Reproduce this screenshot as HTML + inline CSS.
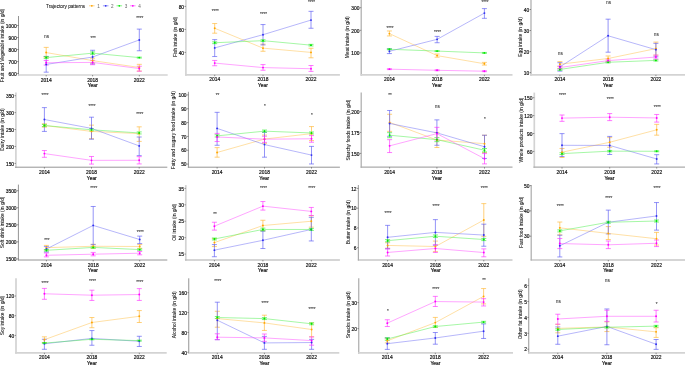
<!DOCTYPE html>
<html><head><meta charset="utf-8"><style>
html,body{margin:0;padding:0;background:#fff;}
svg{display:block;will-change:transform;}
text{font-family:"Liberation Sans",sans-serif;font-size:4.9px;fill:#111;stroke:#111;stroke-width:0.18px;}
text.tt{fill:#1a1a1a;stroke:#1a1a1a;stroke-width:0.08px;}
text.sg{fill:#333;stroke:#333;stroke-width:0.06px;}
</style></head><body>
<svg width="685" height="365" viewBox="0 0 685 365">
<line x1="18.5" y1="16" x2="18.5" y2="75.85" stroke="#949494" stroke-width="1.0"/>
<line x1="18.0" y1="75" x2="167.7" y2="75" stroke="#d3d3d3" stroke-width="1.7"/>
<line x1="17.1" y1="25.5" x2="18.5" y2="25.5" stroke="#333" stroke-width="0.5"/>
<text x="16.7" y="27.7" text-anchor="end">1000</text>
<line x1="17.1" y1="37.52" x2="18.5" y2="37.52" stroke="#333" stroke-width="0.5"/>
<text x="16.7" y="39.73" text-anchor="end">900</text>
<line x1="17.1" y1="49.55" x2="18.5" y2="49.55" stroke="#333" stroke-width="0.5"/>
<text x="16.7" y="51.75" text-anchor="end">800</text>
<line x1="17.1" y1="61.57" x2="18.5" y2="61.57" stroke="#333" stroke-width="0.5"/>
<text x="16.7" y="63.77" text-anchor="end">700</text>
<line x1="17.1" y1="73.6" x2="18.5" y2="73.6" stroke="#333" stroke-width="0.5"/>
<text x="16.7" y="75.8" text-anchor="end">600</text>
<line x1="46.2" y1="75" x2="46.2" y2="76.4" stroke="#333" stroke-width="0.5"/>
<text x="46.2" y="81.5" text-anchor="middle">2014</text>
<line x1="92.6" y1="75" x2="92.6" y2="76.4" stroke="#333" stroke-width="0.5"/>
<text x="92.6" y="81.5" text-anchor="middle">2018</text>
<line x1="139.3" y1="75" x2="139.3" y2="76.4" stroke="#333" stroke-width="0.5"/>
<text x="139.3" y="81.5" text-anchor="middle">2022</text>
<text x="92.75" y="87.4" text-anchor="middle">Year</text>
<text transform="translate(3.9,45.6) rotate(-90)" text-anchor="middle" class="tt">Fruit and Vegetable intake (in g/d)</text>
<path d="M46.2 57.37V47.39M43.7 57.37H48.7M43.7 47.39H48.7" stroke="#FFB733" stroke-width="0.65" fill="none"/>
<path d="M92.6 63.02V58.21M90.1 63.02H95.1M90.1 58.21H95.1" stroke="#FFB733" stroke-width="0.65" fill="none"/>
<path d="M139.3 71.07V64.34M136.8 71.07H141.8M136.8 64.34H141.8" stroke="#FFB733" stroke-width="0.65" fill="none"/>
<path d="M46.2 72.16V56.4M43.7 72.16H48.7M43.7 56.4H48.7" stroke="#5959F3" stroke-width="0.65" fill="none"/>
<path d="M92.6 63.98V50.27M90.1 63.98H95.1M90.1 50.27H95.1" stroke="#5959F3" stroke-width="0.65" fill="none"/>
<path d="M139.3 50.75V29.11M136.8 50.75H141.8M136.8 29.11H141.8" stroke="#5959F3" stroke-width="0.65" fill="none"/>
<path d="M46.2 58.57V56.52M43.7 58.57H48.7M43.7 56.52H48.7" stroke="#33ED33" stroke-width="0.65" fill="none"/>
<path d="M92.6 54.36V51.95M90.1 54.36H95.1M90.1 51.95H95.1" stroke="#33ED33" stroke-width="0.65" fill="none"/>
<path d="M139.3 58.09V57.13M136.8 58.09H141.8M136.8 57.13H141.8" stroke="#33ED33" stroke-width="0.65" fill="none"/>
<path d="M46.2 65.06V60.49M43.7 65.06H48.7M43.7 60.49H48.7" stroke="#FF33FF" stroke-width="0.65" fill="none"/>
<path d="M92.6 64.7V60.37M90.1 64.7H95.1M90.1 60.37H95.1" stroke="#FF33FF" stroke-width="0.65" fill="none"/>
<path d="M139.3 71.19V66.26M136.8 71.19H141.8M136.8 66.26H141.8" stroke="#FF33FF" stroke-width="0.65" fill="none"/>
<polyline points="46.2,52.56 92.6,60.61 139.3,67.47" fill="none" stroke="#FFC04D" stroke-width="0.5"/>
<polyline points="46.2,64.46 92.6,57.01 139.3,39.93" fill="none" stroke="#6E6EF4" stroke-width="0.5"/>
<polyline points="46.2,57.61 92.6,53.16 139.3,57.61" fill="none" stroke="#4DEF4D" stroke-width="0.5"/>
<polyline points="46.2,62.78 92.6,62.42 139.3,68.55" fill="none" stroke="#FF4DFF" stroke-width="0.5"/>
<circle cx="46.2" cy="52.56" r="0.95" fill="#FFA500"/>
<circle cx="92.6" cy="60.61" r="0.95" fill="#FFA500"/>
<circle cx="139.3" cy="67.47" r="0.95" fill="#FFA500"/>
<circle cx="46.2" cy="64.46" r="0.95" fill="#3030F0"/>
<circle cx="92.6" cy="57.01" r="0.95" fill="#3030F0"/>
<circle cx="139.3" cy="39.93" r="0.95" fill="#3030F0"/>
<circle cx="46.2" cy="57.61" r="0.95" fill="#00E800"/>
<circle cx="92.6" cy="53.16" r="0.95" fill="#00E800"/>
<circle cx="139.3" cy="57.61" r="0.95" fill="#00E800"/>
<circle cx="46.2" cy="62.78" r="0.95" fill="#FF00FF"/>
<circle cx="92.6" cy="62.42" r="0.95" fill="#FF00FF"/>
<circle cx="139.3" cy="68.55" r="0.95" fill="#FF00FF"/>
<text x="46.7" y="37.7" text-anchor="middle" class="sg">ns</text>
<text x="93.1" y="39.7" text-anchor="middle" class="sg" style="font-size:4.5px">***</text>
<text x="139.8" y="19.8" text-anchor="middle" class="sg" style="font-size:4.5px">****</text>
<line x1="185.9" y1="0" x2="185.9" y2="75.64999999999999" stroke="#d3d3d3" stroke-width="1.7"/>
<line x1="185.05" y1="74.8" x2="339.9" y2="74.8" stroke="#d3d3d3" stroke-width="1.7"/>
<line x1="184.5" y1="6.4" x2="185.9" y2="6.4" stroke="#333" stroke-width="0.5"/>
<text x="184.1" y="8.6" text-anchor="end">80</text>
<line x1="184.5" y1="29.4" x2="185.9" y2="29.4" stroke="#333" stroke-width="0.5"/>
<text x="184.1" y="31.6" text-anchor="end">60</text>
<line x1="184.5" y1="52.4" x2="185.9" y2="52.4" stroke="#333" stroke-width="0.5"/>
<text x="184.1" y="54.6" text-anchor="end">40</text>
<line x1="214.7" y1="74.8" x2="214.7" y2="76.2" stroke="#333" stroke-width="0.5"/>
<text x="214.7" y="81.3" text-anchor="middle">2014</text>
<line x1="263" y1="74.8" x2="263" y2="76.2" stroke="#333" stroke-width="0.5"/>
<text x="263" y="81.3" text-anchor="middle">2018</text>
<line x1="311" y1="74.8" x2="311" y2="76.2" stroke="#333" stroke-width="0.5"/>
<text x="311" y="81.3" text-anchor="middle">2022</text>
<text x="262.85" y="87.2" text-anchor="middle">Year</text>
<text transform="translate(176.6,37) rotate(-90)" text-anchor="middle" class="tt">Fish intake (in g/d)</text>
<path d="M214.7 33.2V23.54M212.2 33.2H217.2M212.2 23.54H217.2" stroke="#FFB733" stroke-width="0.65" fill="none"/>
<path d="M263 51.25V44.12M260.5 51.25H265.5M260.5 44.12H265.5" stroke="#FFB733" stroke-width="0.65" fill="none"/>
<path d="M311 57.81V48.26M308.5 57.81H313.5M308.5 48.26H313.5" stroke="#FFB733" stroke-width="0.65" fill="none"/>
<path d="M214.7 56.54V39.63M212.2 56.54H217.2M212.2 39.63H217.2" stroke="#5959F3" stroke-width="0.65" fill="none"/>
<path d="M263 44.92V24.57M260.5 44.92H265.5M260.5 24.57H265.5" stroke="#5959F3" stroke-width="0.65" fill="none"/>
<path d="M311 28.25V11.34M308.5 28.25H313.5M308.5 11.34H313.5" stroke="#5959F3" stroke-width="0.65" fill="none"/>
<path d="M214.7 43.66V41.82M212.2 43.66H217.2M212.2 41.82H217.2" stroke="#33ED33" stroke-width="0.65" fill="none"/>
<path d="M263 41.59V39.75M260.5 41.59H265.5M260.5 39.75H265.5" stroke="#33ED33" stroke-width="0.65" fill="none"/>
<path d="M311 45.96V44.35M308.5 45.96H313.5M308.5 44.35H313.5" stroke="#33ED33" stroke-width="0.65" fill="none"/>
<path d="M214.7 65.74V60.45M212.2 65.74H217.2M212.2 60.45H217.2" stroke="#FF33FF" stroke-width="0.65" fill="none"/>
<path d="M263 70.23V64.59M260.5 70.23H265.5M260.5 64.59H265.5" stroke="#FF33FF" stroke-width="0.65" fill="none"/>
<path d="M311 71.38V65.51M308.5 71.38H313.5M308.5 65.51H313.5" stroke="#FF33FF" stroke-width="0.65" fill="none"/>
<polyline points="214.7,28.25 263,48.14 311,52.4" fill="none" stroke="#FFC04D" stroke-width="0.5"/>
<polyline points="214.7,47.91 263,34.69 311,20.09" fill="none" stroke="#6E6EF4" stroke-width="0.5"/>
<polyline points="214.7,42.74 263,40.67 311,45.16" fill="none" stroke="#4DEF4D" stroke-width="0.5"/>
<polyline points="214.7,63.09 263,67.58 311,68.73" fill="none" stroke="#FF4DFF" stroke-width="0.5"/>
<circle cx="214.7" cy="28.25" r="0.95" fill="#FFA500"/>
<circle cx="263" cy="48.14" r="0.95" fill="#FFA500"/>
<circle cx="311" cy="52.4" r="0.95" fill="#FFA500"/>
<circle cx="214.7" cy="47.91" r="0.95" fill="#3030F0"/>
<circle cx="263" cy="34.69" r="0.95" fill="#3030F0"/>
<circle cx="311" cy="20.09" r="0.95" fill="#3030F0"/>
<circle cx="214.7" cy="42.74" r="0.95" fill="#00E800"/>
<circle cx="263" cy="40.67" r="0.95" fill="#00E800"/>
<circle cx="311" cy="45.16" r="0.95" fill="#00E800"/>
<circle cx="214.7" cy="63.09" r="0.95" fill="#FF00FF"/>
<circle cx="263" cy="67.58" r="0.95" fill="#FF00FF"/>
<circle cx="311" cy="68.73" r="0.95" fill="#FF00FF"/>
<text x="215.2" y="12.5" text-anchor="middle" class="sg" style="font-size:4.5px">****</text>
<text x="263.5" y="16.1" text-anchor="middle" class="sg" style="font-size:4.5px">****</text>
<text x="311.5" y="4.1" text-anchor="middle" class="sg" style="font-size:4.5px">****</text>
<line x1="361.2" y1="0" x2="361.2" y2="75.64999999999999" stroke="#ababab" stroke-width="1.2"/>
<line x1="360.59999999999997" y1="74.8" x2="512.5" y2="74.8" stroke="#d3d3d3" stroke-width="1.7"/>
<line x1="359.8" y1="7.7" x2="361.2" y2="7.7" stroke="#333" stroke-width="0.5"/>
<text x="359.4" y="9.9" text-anchor="end">300</text>
<line x1="359.8" y1="30.3" x2="361.2" y2="30.3" stroke="#333" stroke-width="0.5"/>
<text x="359.4" y="32.5" text-anchor="end">200</text>
<line x1="359.8" y1="52.9" x2="361.2" y2="52.9" stroke="#333" stroke-width="0.5"/>
<text x="359.4" y="55.1" text-anchor="end">100</text>
<line x1="389.4" y1="74.8" x2="389.4" y2="76.2" stroke="#333" stroke-width="0.5"/>
<text x="389.4" y="81.3" text-anchor="middle">2014</text>
<line x1="437.1" y1="74.8" x2="437.1" y2="76.2" stroke="#333" stroke-width="0.5"/>
<text x="437.1" y="81.3" text-anchor="middle">2018</text>
<line x1="484.4" y1="74.8" x2="484.4" y2="76.2" stroke="#333" stroke-width="0.5"/>
<text x="484.4" y="81.3" text-anchor="middle">2022</text>
<text x="436.9" y="87.2" text-anchor="middle">Year</text>
<text transform="translate(349.3,37.2) rotate(-90)" text-anchor="middle" class="tt">Meat intake (in g/d)</text>
<path d="M389.4 35.95V30.98M386.9 35.95H391.9M386.9 30.98H391.9" stroke="#FFB733" stroke-width="0.65" fill="none"/>
<path d="M437.1 57.19V54.03M434.6 57.19H439.6M434.6 54.03H439.6" stroke="#FFB733" stroke-width="0.65" fill="none"/>
<path d="M484.4 65.1V62.39M481.9 65.1H486.9M481.9 62.39H486.9" stroke="#FFB733" stroke-width="0.65" fill="none"/>
<path d="M389.4 53.58V48.83M386.9 53.58H391.9M386.9 48.83H391.9" stroke="#5959F3" stroke-width="0.65" fill="none"/>
<path d="M437.1 42.73V36.4M434.6 42.73H439.6M434.6 36.4H439.6" stroke="#5959F3" stroke-width="0.65" fill="none"/>
<path d="M484.4 18.32V8.6M481.9 18.32H486.9M481.9 8.6H486.9" stroke="#5959F3" stroke-width="0.65" fill="none"/>
<path d="M389.4 49.74V48.83M386.9 49.74H391.9M386.9 48.83H391.9" stroke="#33ED33" stroke-width="0.65" fill="none"/>
<path d="M437.1 51.54V50.64M434.6 51.54H439.6M434.6 50.64H439.6" stroke="#33ED33" stroke-width="0.65" fill="none"/>
<path d="M484.4 53.35V52.45M481.9 53.35H486.9M481.9 52.45H486.9" stroke="#33ED33" stroke-width="0.65" fill="none"/>
<path d="M389.4 69.62V68.72M386.9 69.62H391.9M386.9 68.72H391.9" stroke="#FF33FF" stroke-width="0.65" fill="none"/>
<path d="M437.1 70.75V69.85M434.6 70.75H439.6M434.6 69.85H439.6" stroke="#FF33FF" stroke-width="0.65" fill="none"/>
<path d="M484.4 71.66V70.75M481.9 71.66H486.9M481.9 70.75H486.9" stroke="#FF33FF" stroke-width="0.65" fill="none"/>
<polyline points="389.4,33.6 437.1,55.61 484.4,63.75" fill="none" stroke="#FFC04D" stroke-width="0.5"/>
<polyline points="389.4,51.32 437.1,39.34 484.4,13.12" fill="none" stroke="#6E6EF4" stroke-width="0.5"/>
<polyline points="389.4,49.28 437.1,51.09 484.4,52.9" fill="none" stroke="#4DEF4D" stroke-width="0.5"/>
<polyline points="389.4,69.17 437.1,70.3 484.4,71.21" fill="none" stroke="#FF4DFF" stroke-width="0.5"/>
<circle cx="389.4" cy="33.6" r="0.95" fill="#FFA500"/>
<circle cx="437.1" cy="55.61" r="0.95" fill="#FFA500"/>
<circle cx="484.4" cy="63.75" r="0.95" fill="#FFA500"/>
<circle cx="389.4" cy="51.32" r="0.95" fill="#3030F0"/>
<circle cx="437.1" cy="39.34" r="0.95" fill="#3030F0"/>
<circle cx="484.4" cy="13.12" r="0.95" fill="#3030F0"/>
<circle cx="389.4" cy="49.28" r="0.95" fill="#00E800"/>
<circle cx="437.1" cy="51.09" r="0.95" fill="#00E800"/>
<circle cx="484.4" cy="52.9" r="0.95" fill="#00E800"/>
<circle cx="389.4" cy="69.17" r="0.95" fill="#FF00FF"/>
<circle cx="437.1" cy="70.3" r="0.95" fill="#FF00FF"/>
<circle cx="484.4" cy="71.21" r="0.95" fill="#FF00FF"/>
<text x="389.9" y="30" text-anchor="middle" class="sg" style="font-size:4.5px">****</text>
<text x="437.6" y="34.1" text-anchor="middle" class="sg" style="font-size:4.5px">****</text>
<text x="484.9" y="4.35" text-anchor="middle" class="sg" style="font-size:4.5px">****</text>
<line x1="531" y1="0" x2="531" y2="75.64999999999999" stroke="#ababab" stroke-width="1.2"/>
<line x1="530.4" y1="74.8" x2="686" y2="74.8" stroke="#d3d3d3" stroke-width="1.7"/>
<line x1="529.6" y1="9.5" x2="531" y2="9.5" stroke="#333" stroke-width="0.5"/>
<text x="529.2" y="11.7" text-anchor="end">40</text>
<line x1="529.6" y1="30.53" x2="531" y2="30.53" stroke="#333" stroke-width="0.5"/>
<text x="529.2" y="32.73" text-anchor="end">30</text>
<line x1="529.6" y1="51.57" x2="531" y2="51.57" stroke="#333" stroke-width="0.5"/>
<text x="529.2" y="53.77" text-anchor="end">20</text>
<line x1="529.6" y1="72.6" x2="531" y2="72.6" stroke="#333" stroke-width="0.5"/>
<text x="529.2" y="74.8" text-anchor="end">10</text>
<line x1="559.9" y1="74.8" x2="559.9" y2="76.2" stroke="#333" stroke-width="0.5"/>
<text x="559.9" y="81.3" text-anchor="middle">2014</text>
<line x1="608.1" y1="74.8" x2="608.1" y2="76.2" stroke="#333" stroke-width="0.5"/>
<text x="608.1" y="81.3" text-anchor="middle">2018</text>
<line x1="655.9" y1="74.8" x2="655.9" y2="76.2" stroke="#333" stroke-width="0.5"/>
<text x="655.9" y="81.3" text-anchor="middle">2022</text>
<text x="607.9" y="87.2" text-anchor="middle">Year</text>
<text transform="translate(522.3,37) rotate(-90)" text-anchor="middle" class="tt">Egg intake (in g/d)</text>
<path d="M559.9 66.71V61.66M557.4 66.71H562.4M557.4 61.66H562.4" stroke="#FFB733" stroke-width="0.65" fill="none"/>
<path d="M608.1 61.03V55.98M605.6 61.03H610.6M605.6 55.98H610.6" stroke="#FFB733" stroke-width="0.65" fill="none"/>
<path d="M655.9 55.14V42.1M653.4 55.14H658.4M653.4 42.1H658.4" stroke="#FFB733" stroke-width="0.65" fill="none"/>
<path d="M559.9 71.13V62.71M557.4 71.13H562.4M557.4 62.71H562.4" stroke="#5959F3" stroke-width="0.65" fill="none"/>
<path d="M608.1 52.2V19.18M605.6 52.2H610.6M605.6 19.18H610.6" stroke="#5959F3" stroke-width="0.65" fill="none"/>
<path d="M655.9 56.82V43.36M653.4 56.82H658.4M653.4 43.36H658.4" stroke="#5959F3" stroke-width="0.65" fill="none"/>
<path d="M559.9 70.29V68.6M557.4 70.29H562.4M557.4 68.6H562.4" stroke="#33ED33" stroke-width="0.65" fill="none"/>
<path d="M608.1 62.92V61.66M605.6 62.92H610.6M605.6 61.66H610.6" stroke="#33ED33" stroke-width="0.65" fill="none"/>
<path d="M655.9 61.03V59.77M653.4 61.03H658.4M653.4 59.77H658.4" stroke="#33ED33" stroke-width="0.65" fill="none"/>
<path d="M559.9 69.02V66.08M557.4 69.02H562.4M557.4 66.08H562.4" stroke="#FF33FF" stroke-width="0.65" fill="none"/>
<path d="M608.1 62.08V59.14M605.6 62.08H610.6M605.6 59.14H610.6" stroke="#FF33FF" stroke-width="0.65" fill="none"/>
<path d="M655.9 58.93V55.14M653.4 58.93H658.4M653.4 55.14H658.4" stroke="#FF33FF" stroke-width="0.65" fill="none"/>
<polyline points="559.9,64.19 608.1,58.51 655.9,48.62" fill="none" stroke="#FFC04D" stroke-width="0.5"/>
<polyline points="559.9,66.92 608.1,35.79 655.9,49.67" fill="none" stroke="#6E6EF4" stroke-width="0.5"/>
<polyline points="559.9,69.44 608.1,62.29 655.9,60.4" fill="none" stroke="#4DEF4D" stroke-width="0.5"/>
<polyline points="559.9,67.55 608.1,60.61 655.9,57.04" fill="none" stroke="#FF4DFF" stroke-width="0.5"/>
<circle cx="559.9" cy="64.19" r="0.95" fill="#FFA500"/>
<circle cx="608.1" cy="58.51" r="0.95" fill="#FFA500"/>
<circle cx="655.9" cy="48.62" r="0.95" fill="#FFA500"/>
<circle cx="559.9" cy="66.92" r="0.95" fill="#3030F0"/>
<circle cx="608.1" cy="35.79" r="0.95" fill="#3030F0"/>
<circle cx="655.9" cy="49.67" r="0.95" fill="#3030F0"/>
<circle cx="559.9" cy="69.44" r="0.95" fill="#00E800"/>
<circle cx="608.1" cy="62.29" r="0.95" fill="#00E800"/>
<circle cx="655.9" cy="60.4" r="0.95" fill="#00E800"/>
<circle cx="559.9" cy="67.55" r="0.95" fill="#FF00FF"/>
<circle cx="608.1" cy="60.61" r="0.95" fill="#FF00FF"/>
<circle cx="655.9" cy="57.04" r="0.95" fill="#FF00FF"/>
<text x="560.4" y="55" text-anchor="middle" class="sg">ns</text>
<text x="608.6" y="4.1" text-anchor="middle" class="sg">ns</text>
<text x="656.4" y="36.1" text-anchor="middle" class="sg">ns</text>
<line x1="15.9" y1="92.6" x2="15.9" y2="167.7" stroke="#d3d3d3" stroke-width="1.7"/>
<line x1="15.05" y1="167.2" x2="167.3" y2="167.2" stroke="#949494" stroke-width="1.0"/>
<line x1="14.5" y1="95.7" x2="15.9" y2="95.7" stroke="#333" stroke-width="0.5"/>
<text x="14.1" y="97.9" text-anchor="end">350</text>
<line x1="14.5" y1="112.62" x2="15.9" y2="112.62" stroke="#333" stroke-width="0.5"/>
<text x="14.1" y="114.83" text-anchor="end">300</text>
<line x1="14.5" y1="129.55" x2="15.9" y2="129.55" stroke="#333" stroke-width="0.5"/>
<text x="14.1" y="131.75" text-anchor="end">250</text>
<line x1="14.5" y1="146.47" x2="15.9" y2="146.47" stroke="#333" stroke-width="0.5"/>
<text x="14.1" y="148.67" text-anchor="end">200</text>
<line x1="14.5" y1="163.4" x2="15.9" y2="163.4" stroke="#333" stroke-width="0.5"/>
<text x="14.1" y="165.6" text-anchor="end">150</text>
<line x1="44.4" y1="167.2" x2="44.4" y2="168.6" stroke="#333" stroke-width="0.5"/>
<text x="44.4" y="173.7" text-anchor="middle">2014</text>
<line x1="91.5" y1="167.2" x2="91.5" y2="168.6" stroke="#333" stroke-width="0.5"/>
<text x="91.5" y="173.7" text-anchor="middle">2018</text>
<line x1="139.2" y1="167.2" x2="139.2" y2="168.6" stroke="#333" stroke-width="0.5"/>
<text x="139.2" y="173.7" text-anchor="middle">2022</text>
<text x="91.8" y="179.6" text-anchor="middle">Year</text>
<text transform="translate(3.7,129.5) rotate(-90)" text-anchor="middle" class="tt">Dairy intake (in g/d)</text>
<path d="M44.4 127.18V123.8M41.9 127.18H46.9M41.9 123.8H46.9" stroke="#FFB733" stroke-width="0.65" fill="none"/>
<path d="M91.5 138.69V125.15M89 138.69H94M89 125.15H94" stroke="#FFB733" stroke-width="0.65" fill="none"/>
<path d="M139.2 141.4V126.84M136.7 141.4H141.7M136.7 126.84H141.7" stroke="#FFB733" stroke-width="0.65" fill="none"/>
<path d="M44.4 131.41V107.62M41.9 131.41H46.9M41.9 107.62H46.9" stroke="#5959F3" stroke-width="0.65" fill="none"/>
<path d="M91.5 139.2V117.19M89 139.2H94M89 117.19H94" stroke="#5959F3" stroke-width="0.65" fill="none"/>
<path d="M139.2 155.61V137M136.7 155.61H141.7M136.7 137H141.7" stroke="#5959F3" stroke-width="0.65" fill="none"/>
<path d="M44.4 126.5V124.47M41.9 126.5H46.9M41.9 124.47H46.9" stroke="#33ED33" stroke-width="0.65" fill="none"/>
<path d="M91.5 130.9V128.67M89 130.9H94M89 128.67H94" stroke="#33ED33" stroke-width="0.65" fill="none"/>
<path d="M139.2 133.95V131.92M136.7 133.95H141.7M136.7 131.92H141.7" stroke="#33ED33" stroke-width="0.65" fill="none"/>
<path d="M44.4 157.31V150.54M41.9 157.31H46.9M41.9 150.54H46.9" stroke="#FF33FF" stroke-width="0.65" fill="none"/>
<path d="M91.5 164.08V156.49M89 164.08H94M89 156.49H94" stroke="#FF33FF" stroke-width="0.65" fill="none"/>
<path d="M139.2 163.91V156.63M136.7 163.91H141.7M136.7 156.63H141.7" stroke="#FF33FF" stroke-width="0.65" fill="none"/>
<polyline points="44.4,125.49 91.5,131.41 139.2,133.61" fill="none" stroke="#FFC04D" stroke-width="0.5"/>
<polyline points="44.4,119.5 91.5,128.4 139.2,145.9" fill="none" stroke="#6E6EF4" stroke-width="0.5"/>
<polyline points="44.4,125.49 91.5,129.79 139.2,132.94" fill="none" stroke="#4DEF4D" stroke-width="0.5"/>
<polyline points="44.4,153.58 91.5,160.35 139.2,160.29" fill="none" stroke="#FF4DFF" stroke-width="0.5"/>
<circle cx="44.4" cy="125.49" r="0.95" fill="#FFA500"/>
<circle cx="91.5" cy="131.41" r="0.95" fill="#FFA500"/>
<circle cx="139.2" cy="133.61" r="0.95" fill="#FFA500"/>
<circle cx="44.4" cy="119.5" r="0.95" fill="#3030F0"/>
<circle cx="91.5" cy="128.4" r="0.95" fill="#3030F0"/>
<circle cx="139.2" cy="145.9" r="0.95" fill="#3030F0"/>
<circle cx="44.4" cy="125.49" r="0.95" fill="#00E800"/>
<circle cx="91.5" cy="129.79" r="0.95" fill="#00E800"/>
<circle cx="139.2" cy="132.94" r="0.95" fill="#00E800"/>
<circle cx="44.4" cy="153.58" r="0.95" fill="#FF00FF"/>
<circle cx="91.5" cy="160.35" r="0.95" fill="#FF00FF"/>
<circle cx="139.2" cy="160.29" r="0.95" fill="#FF00FF"/>
<text x="44.9" y="97.1" text-anchor="middle" class="sg" style="font-size:4.5px">****</text>
<text x="92" y="107.7" text-anchor="middle" class="sg" style="font-size:4.5px">****</text>
<text x="139.7" y="115.5" text-anchor="middle" class="sg" style="font-size:4.5px">****</text>
<line x1="188.4" y1="91.8" x2="188.4" y2="167.7" stroke="#949494" stroke-width="1.0"/>
<line x1="187.9" y1="167.2" x2="339.9" y2="167.2" stroke="#949494" stroke-width="1.0"/>
<line x1="187.0" y1="94.9" x2="188.4" y2="94.9" stroke="#333" stroke-width="0.5"/>
<text x="186.6" y="97.1" text-anchor="end">100</text>
<line x1="187.0" y1="108.74" x2="188.4" y2="108.74" stroke="#333" stroke-width="0.5"/>
<text x="186.6" y="110.94" text-anchor="end">90</text>
<line x1="187.0" y1="122.58" x2="188.4" y2="122.58" stroke="#333" stroke-width="0.5"/>
<text x="186.6" y="124.78" text-anchor="end">80</text>
<line x1="187.0" y1="136.42" x2="188.4" y2="136.42" stroke="#333" stroke-width="0.5"/>
<text x="186.6" y="138.62" text-anchor="end">70</text>
<line x1="187.0" y1="150.26" x2="188.4" y2="150.26" stroke="#333" stroke-width="0.5"/>
<text x="186.6" y="152.46" text-anchor="end">60</text>
<line x1="187.0" y1="164.1" x2="188.4" y2="164.1" stroke="#333" stroke-width="0.5"/>
<text x="186.6" y="166.3" text-anchor="end">50</text>
<line x1="217.1" y1="167.2" x2="217.1" y2="168.6" stroke="#333" stroke-width="0.5"/>
<text x="217.1" y="173.7" text-anchor="middle">2014</text>
<line x1="264.5" y1="167.2" x2="264.5" y2="168.6" stroke="#333" stroke-width="0.5"/>
<text x="264.5" y="173.7" text-anchor="middle">2018</text>
<line x1="311.5" y1="167.2" x2="311.5" y2="168.6" stroke="#333" stroke-width="0.5"/>
<text x="311.5" y="173.7" text-anchor="middle">2022</text>
<text x="264.3" y="179.6" text-anchor="middle">Year</text>
<text transform="translate(175.3,130.2) rotate(-90)" text-anchor="middle" class="tt">Fatty and sugary food intake (in g/d)</text>
<path d="M217.1 157.18V147.63M214.6 157.18H219.6M214.6 147.63H219.6" stroke="#FFB733" stroke-width="0.65" fill="none"/>
<path d="M264.5 143.34V135.04M262 143.34H267M262 135.04H267" stroke="#FFB733" stroke-width="0.65" fill="none"/>
<path d="M311.5 140.57V126.59M309 140.57H314M309 126.59H314" stroke="#FFB733" stroke-width="0.65" fill="none"/>
<path d="M217.1 145.28V112.34M214.6 145.28H219.6M214.6 112.34H219.6" stroke="#5959F3" stroke-width="0.65" fill="none"/>
<path d="M264.5 157.18V132.27M262 157.18H267M262 132.27H267" stroke="#5959F3" stroke-width="0.65" fill="none"/>
<path d="M311.5 163.96V146.38M309 163.96H314M309 146.38H314" stroke="#5959F3" stroke-width="0.65" fill="none"/>
<path d="M217.1 136.97V134.76M214.6 136.97H219.6M214.6 134.76H219.6" stroke="#33ED33" stroke-width="0.65" fill="none"/>
<path d="M264.5 132.27V130.05M262 132.27H267M262 130.05H267" stroke="#33ED33" stroke-width="0.65" fill="none"/>
<path d="M311.5 133.93V131.99M309 133.93H314M309 131.99H314" stroke="#33ED33" stroke-width="0.65" fill="none"/>
<path d="M217.1 141.54V133.38M214.6 141.54H219.6M214.6 133.38H219.6" stroke="#FF33FF" stroke-width="0.65" fill="none"/>
<path d="M264.5 142.37V136.28M262 142.37H267M262 136.28H267" stroke="#FF33FF" stroke-width="0.65" fill="none"/>
<path d="M311.5 142.23V135.59M309 142.23H314M309 135.59H314" stroke="#FF33FF" stroke-width="0.65" fill="none"/>
<polyline points="217.1,152.47 264.5,139.05 311.5,133.65" fill="none" stroke="#FFC04D" stroke-width="0.5"/>
<polyline points="217.1,128.39 264.5,144.59 311.5,155.1" fill="none" stroke="#6E6EF4" stroke-width="0.5"/>
<polyline points="217.1,135.87 264.5,131.16 311.5,132.96" fill="none" stroke="#4DEF4D" stroke-width="0.5"/>
<polyline points="217.1,136.97 264.5,139.19 311.5,138.77" fill="none" stroke="#FF4DFF" stroke-width="0.5"/>
<circle cx="217.1" cy="152.47" r="0.95" fill="#FFA500"/>
<circle cx="264.5" cy="139.05" r="0.95" fill="#FFA500"/>
<circle cx="311.5" cy="133.65" r="0.95" fill="#FFA500"/>
<circle cx="217.1" cy="128.39" r="0.95" fill="#3030F0"/>
<circle cx="264.5" cy="144.59" r="0.95" fill="#3030F0"/>
<circle cx="311.5" cy="155.1" r="0.95" fill="#3030F0"/>
<circle cx="217.1" cy="135.87" r="0.95" fill="#00E800"/>
<circle cx="264.5" cy="131.16" r="0.95" fill="#00E800"/>
<circle cx="311.5" cy="132.96" r="0.95" fill="#00E800"/>
<circle cx="217.1" cy="136.97" r="0.95" fill="#FF00FF"/>
<circle cx="264.5" cy="139.19" r="0.95" fill="#FF00FF"/>
<circle cx="311.5" cy="138.77" r="0.95" fill="#FF00FF"/>
<text x="217.6" y="97.1" text-anchor="middle" class="sg" style="font-size:4.5px">**</text>
<text x="265" y="107.7" text-anchor="middle" class="sg" style="font-size:4.5px">*</text>
<text x="312" y="116.7" text-anchor="middle" class="sg" style="font-size:4.5px">*</text>
<line x1="361.2" y1="92.6" x2="361.2" y2="167.79999999999998" stroke="#ababab" stroke-width="1.2"/>
<line x1="360.59999999999997" y1="167.2" x2="512.5" y2="167.2" stroke="#ababab" stroke-width="1.2"/>
<line x1="359.8" y1="111.5" x2="361.2" y2="111.5" stroke="#333" stroke-width="0.5"/>
<text x="359.4" y="113.7" text-anchor="end">200</text>
<line x1="359.8" y1="132.45" x2="361.2" y2="132.45" stroke="#333" stroke-width="0.5"/>
<text x="359.4" y="134.65" text-anchor="end">175</text>
<line x1="359.8" y1="153.4" x2="361.2" y2="153.4" stroke="#333" stroke-width="0.5"/>
<text x="359.4" y="155.6" text-anchor="end">150</text>
<line x1="389.6" y1="167.2" x2="389.6" y2="168.6" stroke="#333" stroke-width="0.5"/>
<text x="389.6" y="173.7" text-anchor="middle">2014</text>
<line x1="436.9" y1="167.2" x2="436.9" y2="168.6" stroke="#333" stroke-width="0.5"/>
<text x="436.9" y="173.7" text-anchor="middle">2018</text>
<line x1="484.5" y1="167.2" x2="484.5" y2="168.6" stroke="#333" stroke-width="0.5"/>
<text x="484.5" y="173.7" text-anchor="middle">2022</text>
<text x="437.05" y="179.6" text-anchor="middle">Year</text>
<text transform="translate(350.0,130.1) rotate(-90)" text-anchor="middle" class="tt">Starchy foods intake (in g/d)</text>
<path d="M389.6 131.36V114.27M387.1 131.36H392.1M387.1 114.27H392.1" stroke="#FFB733" stroke-width="0.65" fill="none"/>
<path d="M436.9 147.53V132.45M434.4 147.53H439.4M434.4 132.45H439.4" stroke="#FFB733" stroke-width="0.65" fill="none"/>
<path d="M484.5 152.56V135.22M482 152.56H487M482 135.22H487" stroke="#FFB733" stroke-width="0.65" fill="none"/>
<path d="M389.6 136.3V110.49M387.1 136.3H392.1M387.1 110.49H392.1" stroke="#5959F3" stroke-width="0.65" fill="none"/>
<path d="M436.9 145.27V119.88M434.4 145.27H439.4M434.4 119.88H439.4" stroke="#5959F3" stroke-width="0.65" fill="none"/>
<path d="M484.5 158.43V135.22M482 158.43H487M482 135.22H487" stroke="#5959F3" stroke-width="0.65" fill="none"/>
<path d="M389.6 137.73V132.7M387.1 137.73H392.1M387.1 132.7H392.1" stroke="#33ED33" stroke-width="0.65" fill="none"/>
<path d="M436.9 141.67V137.65M434.4 141.67H439.4M434.4 137.65H439.4" stroke="#33ED33" stroke-width="0.65" fill="none"/>
<path d="M484.5 151.89V148.54M482 151.89H487M482 148.54H487" stroke="#33ED33" stroke-width="0.65" fill="none"/>
<path d="M389.6 152.56V139.66M387.1 152.56H392.1M387.1 139.66H392.1" stroke="#FF33FF" stroke-width="0.65" fill="none"/>
<path d="M436.9 139.99V127.34M434.4 139.99H439.4M434.4 127.34H439.4" stroke="#FF33FF" stroke-width="0.65" fill="none"/>
<path d="M484.5 163.88V153.57M482 163.88H487M482 153.57H487" stroke="#FF33FF" stroke-width="0.65" fill="none"/>
<polyline points="389.6,122.39 436.9,139.99 484.5,143.68" fill="none" stroke="#FFC04D" stroke-width="0.5"/>
<polyline points="389.6,123.48 436.9,132.87 484.5,146.78" fill="none" stroke="#6E6EF4" stroke-width="0.5"/>
<polyline points="389.6,135.22 436.9,139.66 484.5,150.22" fill="none" stroke="#4DEF4D" stroke-width="0.5"/>
<polyline points="389.6,145.86 436.9,133.62 484.5,158.68" fill="none" stroke="#FF4DFF" stroke-width="0.5"/>
<circle cx="389.6" cy="122.39" r="0.95" fill="#FFA500"/>
<circle cx="436.9" cy="139.99" r="0.95" fill="#FFA500"/>
<circle cx="484.5" cy="143.68" r="0.95" fill="#FFA500"/>
<circle cx="389.6" cy="123.48" r="0.95" fill="#3030F0"/>
<circle cx="436.9" cy="132.87" r="0.95" fill="#3030F0"/>
<circle cx="484.5" cy="146.78" r="0.95" fill="#3030F0"/>
<circle cx="389.6" cy="135.22" r="0.95" fill="#00E800"/>
<circle cx="436.9" cy="139.66" r="0.95" fill="#00E800"/>
<circle cx="484.5" cy="150.22" r="0.95" fill="#00E800"/>
<circle cx="389.6" cy="145.86" r="0.95" fill="#FF00FF"/>
<circle cx="436.9" cy="133.62" r="0.95" fill="#FF00FF"/>
<circle cx="484.5" cy="158.68" r="0.95" fill="#FF00FF"/>
<text x="390.1" y="97.1" text-anchor="middle" class="sg" style="font-size:4.5px">**</text>
<text x="437.4" y="107.9" text-anchor="middle" class="sg">ns</text>
<text x="485" y="121.4" text-anchor="middle" class="sg" style="font-size:4.5px">*</text>
<line x1="534.3" y1="92.6" x2="534.3" y2="167.79999999999998" stroke="#d3d3d3" stroke-width="1.7"/>
<line x1="533.4499999999999" y1="167.2" x2="686" y2="167.2" stroke="#ababab" stroke-width="1.2"/>
<line x1="532.9" y1="97.7" x2="534.3" y2="97.7" stroke="#333" stroke-width="0.5"/>
<text x="532.5" y="99.9" text-anchor="end">150</text>
<line x1="532.9" y1="115.6" x2="534.3" y2="115.6" stroke="#333" stroke-width="0.5"/>
<text x="532.5" y="117.8" text-anchor="end">120</text>
<line x1="532.9" y1="133.5" x2="534.3" y2="133.5" stroke="#333" stroke-width="0.5"/>
<text x="532.5" y="135.7" text-anchor="end">90</text>
<line x1="532.9" y1="151.4" x2="534.3" y2="151.4" stroke="#333" stroke-width="0.5"/>
<text x="532.5" y="153.6" text-anchor="end">60</text>
<line x1="562" y1="167.2" x2="562" y2="168.6" stroke="#333" stroke-width="0.5"/>
<text x="562" y="173.7" text-anchor="middle">2014</text>
<line x1="609.7" y1="167.2" x2="609.7" y2="168.6" stroke="#333" stroke-width="0.5"/>
<text x="609.7" y="173.7" text-anchor="middle">2018</text>
<line x1="656.7" y1="167.2" x2="656.7" y2="168.6" stroke="#333" stroke-width="0.5"/>
<text x="656.7" y="173.7" text-anchor="middle">2022</text>
<text x="609.35" y="179.6" text-anchor="middle">Year</text>
<text transform="translate(522.7,130.0) rotate(-90)" text-anchor="middle" class="tt">Whole products intake (in g/d)</text>
<path d="M562 157.49V148.48M559.5 157.49H564.5M559.5 148.48H564.5" stroke="#FFB733" stroke-width="0.65" fill="none"/>
<path d="M609.7 147.28V137.62M607.2 147.28H612.2M607.2 137.62H612.2" stroke="#FFB733" stroke-width="0.65" fill="none"/>
<path d="M656.7 135.17V124.37M654.2 135.17H659.2M654.2 124.37H659.2" stroke="#FFB733" stroke-width="0.65" fill="none"/>
<path d="M562 156.47V133.62M559.5 156.47H564.5M559.5 133.62H564.5" stroke="#5959F3" stroke-width="0.65" fill="none"/>
<path d="M609.7 154.5V136.42M607.2 154.5H612.2M607.2 136.42H612.2" stroke="#5959F3" stroke-width="0.65" fill="none"/>
<path d="M656.7 163.93V154.68M654.2 163.93H659.2M654.2 154.68H659.2" stroke="#5959F3" stroke-width="0.65" fill="none"/>
<path d="M562 154.5V152.71M559.5 154.5H564.5M559.5 152.71H564.5" stroke="#33ED33" stroke-width="0.65" fill="none"/>
<path d="M609.7 151.88V150.45M607.2 151.88H612.2M607.2 150.45H612.2" stroke="#33ED33" stroke-width="0.65" fill="none"/>
<path d="M656.7 151.76V150.8M654.2 151.76H659.2M654.2 150.8H659.2" stroke="#33ED33" stroke-width="0.65" fill="none"/>
<path d="M562 121.33V115M559.5 121.33H564.5M559.5 115H564.5" stroke="#FF33FF" stroke-width="0.65" fill="none"/>
<path d="M609.7 120.61V113.57M607.2 120.61H612.2M607.2 113.57H612.2" stroke="#FF33FF" stroke-width="0.65" fill="none"/>
<path d="M656.7 122.1V114.47M654.2 122.1H659.2M654.2 114.47H659.2" stroke="#FF33FF" stroke-width="0.65" fill="none"/>
<polyline points="562,152.18 609.7,142.27 656.7,129.8" fill="none" stroke="#FFC04D" stroke-width="0.5"/>
<polyline points="562,145.31 609.7,145.43 656.7,158.98" fill="none" stroke="#6E6EF4" stroke-width="0.5"/>
<polyline points="562,153.61 609.7,151.16 656.7,151.28" fill="none" stroke="#4DEF4D" stroke-width="0.5"/>
<polyline points="562,118.11 609.7,117.21 656.7,117.93" fill="none" stroke="#FF4DFF" stroke-width="0.5"/>
<circle cx="562" cy="152.18" r="0.95" fill="#FFA500"/>
<circle cx="609.7" cy="142.27" r="0.95" fill="#FFA500"/>
<circle cx="656.7" cy="129.8" r="0.95" fill="#FFA500"/>
<circle cx="562" cy="145.31" r="0.95" fill="#3030F0"/>
<circle cx="609.7" cy="145.43" r="0.95" fill="#3030F0"/>
<circle cx="656.7" cy="158.98" r="0.95" fill="#3030F0"/>
<circle cx="562" cy="153.61" r="0.95" fill="#00E800"/>
<circle cx="609.7" cy="151.16" r="0.95" fill="#00E800"/>
<circle cx="656.7" cy="151.28" r="0.95" fill="#00E800"/>
<circle cx="562" cy="118.11" r="0.95" fill="#FF00FF"/>
<circle cx="609.7" cy="117.21" r="0.95" fill="#FF00FF"/>
<circle cx="656.7" cy="117.93" r="0.95" fill="#FF00FF"/>
<text x="562.5" y="97.1" text-anchor="middle" class="sg" style="font-size:4.5px">****</text>
<text x="610.2" y="100.5" text-anchor="middle" class="sg" style="font-size:4.5px">****</text>
<text x="657.2" y="108.8" text-anchor="middle" class="sg" style="font-size:4.5px">****</text>
<line x1="18.4" y1="184.6" x2="18.4" y2="260.5" stroke="#949494" stroke-width="1.0"/>
<line x1="17.9" y1="260" x2="167.3" y2="260" stroke="#949494" stroke-width="1.0"/>
<line x1="17.0" y1="190.7" x2="18.4" y2="190.7" stroke="#333" stroke-width="0.5"/>
<text x="16.6" y="192.9" text-anchor="end">3500</text>
<line x1="17.0" y1="207.75" x2="18.4" y2="207.75" stroke="#333" stroke-width="0.5"/>
<text x="16.6" y="209.95" text-anchor="end">3000</text>
<line x1="17.0" y1="224.8" x2="18.4" y2="224.8" stroke="#333" stroke-width="0.5"/>
<text x="16.6" y="227" text-anchor="end">2500</text>
<line x1="17.0" y1="241.85" x2="18.4" y2="241.85" stroke="#333" stroke-width="0.5"/>
<text x="16.6" y="244.05" text-anchor="end">2000</text>
<line x1="17.0" y1="258.9" x2="18.4" y2="258.9" stroke="#333" stroke-width="0.5"/>
<text x="16.6" y="261.1" text-anchor="end">1500</text>
<line x1="46.4" y1="260" x2="46.4" y2="261.4" stroke="#333" stroke-width="0.5"/>
<text x="46.4" y="266.5" text-anchor="middle">2014</text>
<line x1="93.2" y1="260" x2="93.2" y2="261.4" stroke="#333" stroke-width="0.5"/>
<text x="93.2" y="266.5" text-anchor="middle">2018</text>
<line x1="139.7" y1="260" x2="139.7" y2="261.4" stroke="#333" stroke-width="0.5"/>
<text x="139.7" y="266.5" text-anchor="middle">2022</text>
<text x="93.05" y="272.4" text-anchor="middle">Year</text>
<text transform="translate(3.7,222.5) rotate(-90)" text-anchor="middle" class="tt">Soft drink intake (in g/d)</text>
<path d="M46.4 249.86V245.4M43.9 249.86H48.9M43.9 245.4H48.9" stroke="#FFB733" stroke-width="0.65" fill="none"/>
<path d="M93.2 248.33V244.24M90.7 248.33H95.7M90.7 244.24H95.7" stroke="#FFB733" stroke-width="0.65" fill="none"/>
<path d="M139.7 248.33V244.58M137.2 248.33H142.2M137.2 244.58H142.2" stroke="#FFB733" stroke-width="0.65" fill="none"/>
<path d="M46.4 252.08V246.62M43.9 252.08H48.9M43.9 246.62H48.9" stroke="#5959F3" stroke-width="0.65" fill="none"/>
<path d="M93.2 244.68V206.49M90.7 244.68H95.7M90.7 206.49H95.7" stroke="#5959F3" stroke-width="0.65" fill="none"/>
<path d="M139.7 243.59V236.12M137.2 243.59H142.2M137.2 236.12H142.2" stroke="#5959F3" stroke-width="0.65" fill="none"/>
<path d="M46.4 251.06V249.56M43.9 251.06H48.9M43.9 249.56H48.9" stroke="#33ED33" stroke-width="0.65" fill="none"/>
<path d="M93.2 248.16V246.66M90.7 248.16H95.7M90.7 246.66H95.7" stroke="#33ED33" stroke-width="0.65" fill="none"/>
<path d="M139.7 250.27V248.91M137.2 250.27H142.2M137.2 248.91H142.2" stroke="#33ED33" stroke-width="0.65" fill="none"/>
<path d="M46.4 256.85V253M43.9 256.85H48.9M43.9 253H48.9" stroke="#FF33FF" stroke-width="0.65" fill="none"/>
<path d="M93.2 255.83V252.42M90.7 255.83H95.7M90.7 252.42H95.7" stroke="#FF33FF" stroke-width="0.65" fill="none"/>
<path d="M139.7 254.81V251.47M137.2 254.81H142.2M137.2 251.47H142.2" stroke="#FF33FF" stroke-width="0.65" fill="none"/>
<polyline points="46.4,247.65 93.2,246.28 139.7,246.49" fill="none" stroke="#FFC04D" stroke-width="0.5"/>
<polyline points="46.4,249.01 93.2,225.41 139.7,239.5" fill="none" stroke="#6E6EF4" stroke-width="0.5"/>
<polyline points="46.4,250.31 93.2,247.41 139.7,249.59" fill="none" stroke="#4DEF4D" stroke-width="0.5"/>
<polyline points="46.4,255.29 93.2,254.19 139.7,253.21" fill="none" stroke="#FF4DFF" stroke-width="0.5"/>
<circle cx="46.4" cy="247.65" r="0.95" fill="#FFA500"/>
<circle cx="93.2" cy="246.28" r="0.95" fill="#FFA500"/>
<circle cx="139.7" cy="246.49" r="0.95" fill="#FFA500"/>
<circle cx="46.4" cy="249.01" r="0.95" fill="#3030F0"/>
<circle cx="93.2" cy="225.41" r="0.95" fill="#3030F0"/>
<circle cx="139.7" cy="239.5" r="0.95" fill="#3030F0"/>
<circle cx="46.4" cy="250.31" r="0.95" fill="#00E800"/>
<circle cx="93.2" cy="247.41" r="0.95" fill="#00E800"/>
<circle cx="139.7" cy="249.59" r="0.95" fill="#00E800"/>
<circle cx="46.4" cy="255.29" r="0.95" fill="#FF00FF"/>
<circle cx="93.2" cy="254.19" r="0.95" fill="#FF00FF"/>
<circle cx="139.7" cy="253.21" r="0.95" fill="#FF00FF"/>
<text x="46.9" y="241.5" text-anchor="middle" class="sg" style="font-size:4.5px">***</text>
<text x="93.7" y="189.8" text-anchor="middle" class="sg" style="font-size:4.5px">****</text>
<text x="140.2" y="234" text-anchor="middle" class="sg" style="font-size:4.5px">****</text>
<line x1="185.8" y1="185.1" x2="185.8" y2="260.6" stroke="#d3d3d3" stroke-width="1.7"/>
<line x1="184.95000000000002" y1="260" x2="339.9" y2="260" stroke="#ababab" stroke-width="1.2"/>
<line x1="184.4" y1="188.4" x2="185.8" y2="188.4" stroke="#333" stroke-width="0.5"/>
<text x="184" y="190.6" text-anchor="end">35</text>
<line x1="184.4" y1="204.82" x2="185.8" y2="204.82" stroke="#333" stroke-width="0.5"/>
<text x="184" y="207.02" text-anchor="end">30</text>
<line x1="184.4" y1="221.25" x2="185.8" y2="221.25" stroke="#333" stroke-width="0.5"/>
<text x="184" y="223.45" text-anchor="end">25</text>
<line x1="184.4" y1="237.68" x2="185.8" y2="237.68" stroke="#333" stroke-width="0.5"/>
<text x="184" y="239.88" text-anchor="end">20</text>
<line x1="184.4" y1="254.1" x2="185.8" y2="254.1" stroke="#333" stroke-width="0.5"/>
<text x="184" y="256.3" text-anchor="end">15</text>
<line x1="214.4" y1="260" x2="214.4" y2="261.4" stroke="#333" stroke-width="0.5"/>
<text x="214.4" y="266.5" text-anchor="middle">2014</text>
<line x1="262.9" y1="260" x2="262.9" y2="261.4" stroke="#333" stroke-width="0.5"/>
<text x="262.9" y="266.5" text-anchor="middle">2018</text>
<line x1="311.3" y1="260" x2="311.3" y2="261.4" stroke="#333" stroke-width="0.5"/>
<text x="311.3" y="266.5" text-anchor="middle">2022</text>
<text x="262.85" y="272.4" text-anchor="middle">Year</text>
<text transform="translate(175.9,222.3) rotate(-90)" text-anchor="middle" class="tt">Oil intake (in g/d)</text>
<path d="M214.4 246.54V238.66M211.9 246.54H216.9M211.9 238.66H216.9" stroke="#FFB733" stroke-width="0.65" fill="none"/>
<path d="M262.9 230.78V220.26M260.4 230.78H265.4M260.4 220.26H265.4" stroke="#FFB733" stroke-width="0.65" fill="none"/>
<path d="M311.3 227.16V215.67M308.8 227.16H313.8M308.8 215.67H313.8" stroke="#FFB733" stroke-width="0.65" fill="none"/>
<path d="M214.4 256.73V244.57M211.9 256.73H216.9M211.9 244.57H216.9" stroke="#5959F3" stroke-width="0.65" fill="none"/>
<path d="M262.9 248.52V231.11M260.4 248.52H265.4M260.4 231.11H265.4" stroke="#5959F3" stroke-width="0.65" fill="none"/>
<path d="M311.3 240.96V217.31M308.8 240.96H313.8M308.8 217.31H313.8" stroke="#5959F3" stroke-width="0.65" fill="none"/>
<path d="M214.4 239.97V238M211.9 239.97H216.9M211.9 238H216.9" stroke="#33ED33" stroke-width="0.65" fill="none"/>
<path d="M262.9 230.78V228.15M260.4 230.78H265.4M260.4 228.15H265.4" stroke="#33ED33" stroke-width="0.65" fill="none"/>
<path d="M311.3 230.45V228.48M308.8 230.45H313.8M308.8 228.48H313.8" stroke="#33ED33" stroke-width="0.65" fill="none"/>
<path d="M214.4 230.12V222.24M211.9 230.12H216.9M211.9 222.24H216.9" stroke="#FF33FF" stroke-width="0.65" fill="none"/>
<path d="M262.9 210.08V201.54M260.4 210.08H265.4M260.4 201.54H265.4" stroke="#FF33FF" stroke-width="0.65" fill="none"/>
<path d="M311.3 215.5V207.45M308.8 215.5H313.8M308.8 207.45H313.8" stroke="#FF33FF" stroke-width="0.65" fill="none"/>
<polyline points="214.4,242.6 262.9,225.52 311.3,221.25" fill="none" stroke="#FFC04D" stroke-width="0.5"/>
<polyline points="214.4,250.16 262.9,240.3 311.3,229.46" fill="none" stroke="#6E6EF4" stroke-width="0.5"/>
<polyline points="214.4,238.99 262.9,229.46 311.3,229.46" fill="none" stroke="#4DEF4D" stroke-width="0.5"/>
<polyline points="214.4,226.18 262.9,206.14 311.3,211.4" fill="none" stroke="#FF4DFF" stroke-width="0.5"/>
<circle cx="214.4" cy="242.6" r="0.95" fill="#FFA500"/>
<circle cx="262.9" cy="225.52" r="0.95" fill="#FFA500"/>
<circle cx="311.3" cy="221.25" r="0.95" fill="#FFA500"/>
<circle cx="214.4" cy="250.16" r="0.95" fill="#3030F0"/>
<circle cx="262.9" cy="240.3" r="0.95" fill="#3030F0"/>
<circle cx="311.3" cy="229.46" r="0.95" fill="#3030F0"/>
<circle cx="214.4" cy="238.99" r="0.95" fill="#00E800"/>
<circle cx="262.9" cy="229.46" r="0.95" fill="#00E800"/>
<circle cx="311.3" cy="229.46" r="0.95" fill="#00E800"/>
<circle cx="214.4" cy="226.18" r="0.95" fill="#FF00FF"/>
<circle cx="262.9" cy="206.14" r="0.95" fill="#FF00FF"/>
<circle cx="311.3" cy="211.4" r="0.95" fill="#FF00FF"/>
<text x="214.9" y="215.6" text-anchor="middle" class="sg" style="font-size:4.5px">**</text>
<text x="263.4" y="189.8" text-anchor="middle" class="sg" style="font-size:4.5px">****</text>
<text x="311.8" y="189.6" text-anchor="middle" class="sg" style="font-size:4.5px">****</text>
<line x1="358.4" y1="185.1" x2="358.4" y2="260.6" stroke="#ababab" stroke-width="1.2"/>
<line x1="357.79999999999995" y1="260" x2="512.5" y2="260" stroke="#ababab" stroke-width="1.2"/>
<line x1="357.0" y1="188.4" x2="358.4" y2="188.4" stroke="#333" stroke-width="0.5"/>
<text x="356.6" y="190.6" text-anchor="end">12</text>
<line x1="357.0" y1="208.17" x2="358.4" y2="208.17" stroke="#333" stroke-width="0.5"/>
<text x="356.6" y="210.37" text-anchor="end">10</text>
<line x1="357.0" y1="227.93" x2="358.4" y2="227.93" stroke="#333" stroke-width="0.5"/>
<text x="356.6" y="230.13" text-anchor="end">8</text>
<line x1="357.0" y1="247.7" x2="358.4" y2="247.7" stroke="#333" stroke-width="0.5"/>
<text x="356.6" y="249.9" text-anchor="end">6</text>
<line x1="387.6" y1="260" x2="387.6" y2="261.4" stroke="#333" stroke-width="0.5"/>
<text x="387.6" y="266.5" text-anchor="middle">2014</text>
<line x1="435.4" y1="260" x2="435.4" y2="261.4" stroke="#333" stroke-width="0.5"/>
<text x="435.4" y="266.5" text-anchor="middle">2018</text>
<line x1="483.8" y1="260" x2="483.8" y2="261.4" stroke="#333" stroke-width="0.5"/>
<text x="483.8" y="266.5" text-anchor="middle">2022</text>
<text x="435.7" y="272.4" text-anchor="middle">Year</text>
<text transform="translate(349.8,222.2) rotate(-90)" text-anchor="middle" class="tt">Butter intake (in g/d)</text>
<path d="M387.6 248.19V242.76M385.1 248.19H390.1M385.1 242.76H390.1" stroke="#FFB733" stroke-width="0.65" fill="none"/>
<path d="M435.4 251.65V241.08M432.9 251.65H437.9M432.9 241.08H437.9" stroke="#FFB733" stroke-width="0.65" fill="none"/>
<path d="M483.8 236.33V203.62M481.3 236.33H486.3M481.3 203.62H486.3" stroke="#FFB733" stroke-width="0.65" fill="none"/>
<path d="M387.6 248.79V225.36M385.1 248.79H390.1M385.1 225.36H390.1" stroke="#5959F3" stroke-width="0.65" fill="none"/>
<path d="M435.4 245.23V219.63M432.9 245.23H437.9M432.9 219.63H437.9" stroke="#5959F3" stroke-width="0.65" fill="none"/>
<path d="M483.8 246.22V224.18M481.3 246.22H486.3M481.3 224.18H486.3" stroke="#5959F3" stroke-width="0.65" fill="none"/>
<path d="M387.6 241.77V239.6M385.1 241.77H390.1M385.1 239.6H390.1" stroke="#33ED33" stroke-width="0.65" fill="none"/>
<path d="M435.4 237.52V234.95M432.9 237.52H437.9M432.9 234.95H437.9" stroke="#33ED33" stroke-width="0.65" fill="none"/>
<path d="M483.8 240.58V238.41M481.3 240.58H486.3M481.3 238.41H486.3" stroke="#33ED33" stroke-width="0.65" fill="none"/>
<path d="M387.6 256V248.79M385.1 256H390.1M385.1 248.79H390.1" stroke="#FF33FF" stroke-width="0.65" fill="none"/>
<path d="M435.4 252.44V244.73M432.9 252.44H437.9M432.9 244.73H437.9" stroke="#FF33FF" stroke-width="0.65" fill="none"/>
<path d="M483.8 256.79V248.89M481.3 256.79H486.3M481.3 248.89H486.3" stroke="#FF33FF" stroke-width="0.65" fill="none"/>
<polyline points="387.6,245.43 435.4,246.51 483.8,220.03" fill="none" stroke="#FFC04D" stroke-width="0.5"/>
<polyline points="387.6,237.32 435.4,232.38 483.8,235.05" fill="none" stroke="#6E6EF4" stroke-width="0.5"/>
<polyline points="387.6,240.68 435.4,236.24 483.8,239.5" fill="none" stroke="#4DEF4D" stroke-width="0.5"/>
<polyline points="387.6,252.44 435.4,248.49 483.8,252.54" fill="none" stroke="#FF4DFF" stroke-width="0.5"/>
<circle cx="387.6" cy="245.43" r="0.95" fill="#FFA500"/>
<circle cx="435.4" cy="246.51" r="0.95" fill="#FFA500"/>
<circle cx="483.8" cy="220.03" r="0.95" fill="#FFA500"/>
<circle cx="387.6" cy="237.32" r="0.95" fill="#3030F0"/>
<circle cx="435.4" cy="232.38" r="0.95" fill="#3030F0"/>
<circle cx="483.8" cy="235.05" r="0.95" fill="#3030F0"/>
<circle cx="387.6" cy="240.68" r="0.95" fill="#00E800"/>
<circle cx="435.4" cy="236.24" r="0.95" fill="#00E800"/>
<circle cx="483.8" cy="239.5" r="0.95" fill="#00E800"/>
<circle cx="387.6" cy="252.44" r="0.95" fill="#FF00FF"/>
<circle cx="435.4" cy="248.49" r="0.95" fill="#FF00FF"/>
<circle cx="483.8" cy="252.54" r="0.95" fill="#FF00FF"/>
<text x="388.1" y="215.2" text-anchor="middle" class="sg" style="font-size:4.5px">****</text>
<text x="435.9" y="208.4" text-anchor="middle" class="sg" style="font-size:4.5px">****</text>
<text x="484.3" y="189.6" text-anchor="middle" class="sg" style="font-size:4.5px">****</text>
<line x1="531.2" y1="185.1" x2="531.2" y2="260.6" stroke="#ababab" stroke-width="1.2"/>
<line x1="530.6" y1="260" x2="686" y2="260" stroke="#ababab" stroke-width="1.2"/>
<line x1="529.8000000000001" y1="185.6" x2="531.2" y2="185.6" stroke="#333" stroke-width="0.5"/>
<text x="529.4" y="187.8" text-anchor="end">50</text>
<line x1="529.8000000000001" y1="210.9" x2="531.2" y2="210.9" stroke="#333" stroke-width="0.5"/>
<text x="529.4" y="213.1" text-anchor="end">40</text>
<line x1="529.8000000000001" y1="236.2" x2="531.2" y2="236.2" stroke="#333" stroke-width="0.5"/>
<text x="529.4" y="238.4" text-anchor="end">30</text>
<line x1="559.8" y1="260" x2="559.8" y2="261.4" stroke="#333" stroke-width="0.5"/>
<text x="559.8" y="266.5" text-anchor="middle">2014</text>
<line x1="608.3" y1="260" x2="608.3" y2="261.4" stroke="#333" stroke-width="0.5"/>
<text x="608.3" y="266.5" text-anchor="middle">2018</text>
<line x1="656.5" y1="260" x2="656.5" y2="261.4" stroke="#333" stroke-width="0.5"/>
<text x="656.5" y="266.5" text-anchor="middle">2022</text>
<text x="608.15" y="272.4" text-anchor="middle">Year</text>
<text transform="translate(522.7,222.4) rotate(-90)" text-anchor="middle" class="tt">Fast food intake (in g/d)</text>
<path d="M559.8 234.94V222.03M557.3 234.94H562.3M557.3 222.03H562.3" stroke="#FFB733" stroke-width="0.65" fill="none"/>
<path d="M608.3 239.49V226.59M605.8 239.49H610.8M605.8 226.59H610.8" stroke="#FFB733" stroke-width="0.65" fill="none"/>
<path d="M656.5 245.06V232.4M654 245.06H659M654 232.4H659" stroke="#FFB733" stroke-width="0.65" fill="none"/>
<path d="M559.8 256.95V235.19M557.3 256.95H562.3M557.3 235.19H562.3" stroke="#5959F3" stroke-width="0.65" fill="none"/>
<path d="M608.3 233.92V210.14M605.8 233.92H610.8M605.8 210.14H610.8" stroke="#5959F3" stroke-width="0.65" fill="none"/>
<path d="M656.5 230.13V202.55M654 230.13H659M654 202.55H659" stroke="#5959F3" stroke-width="0.65" fill="none"/>
<path d="M559.8 231.9V229.88M557.3 231.9H562.3M557.3 229.88H562.3" stroke="#33ED33" stroke-width="0.65" fill="none"/>
<path d="M608.3 223.3V221.27M605.8 223.3H610.8M605.8 221.27H610.8" stroke="#33ED33" stroke-width="0.65" fill="none"/>
<path d="M656.5 222.03V220.01M654 222.03H659M654 220.01H659" stroke="#33ED33" stroke-width="0.65" fill="none"/>
<path d="M559.8 248.6V238.48M557.3 248.6H562.3M557.3 238.48H562.3" stroke="#FF33FF" stroke-width="0.65" fill="none"/>
<path d="M608.3 248.6V241.01M605.8 248.6H610.8M605.8 241.01H610.8" stroke="#FF33FF" stroke-width="0.65" fill="none"/>
<path d="M656.5 246.57V240M654 246.57H659M654 240H659" stroke="#FF33FF" stroke-width="0.65" fill="none"/>
<polyline points="559.8,227.85 608.3,233.42 656.5,238.73" fill="none" stroke="#FFC04D" stroke-width="0.5"/>
<polyline points="559.8,245.81 608.3,222.28 656.5,215.96" fill="none" stroke="#6E6EF4" stroke-width="0.5"/>
<polyline points="559.8,230.89 608.3,222.28 656.5,221.02" fill="none" stroke="#4DEF4D" stroke-width="0.5"/>
<polyline points="559.8,243.54 608.3,244.8 656.5,243.28" fill="none" stroke="#FF4DFF" stroke-width="0.5"/>
<circle cx="559.8" cy="227.85" r="0.95" fill="#FFA500"/>
<circle cx="608.3" cy="233.42" r="0.95" fill="#FFA500"/>
<circle cx="656.5" cy="238.73" r="0.95" fill="#FFA500"/>
<circle cx="559.8" cy="245.81" r="0.95" fill="#3030F0"/>
<circle cx="608.3" cy="222.28" r="0.95" fill="#3030F0"/>
<circle cx="656.5" cy="215.96" r="0.95" fill="#3030F0"/>
<circle cx="559.8" cy="230.89" r="0.95" fill="#00E800"/>
<circle cx="608.3" cy="222.28" r="0.95" fill="#00E800"/>
<circle cx="656.5" cy="221.02" r="0.95" fill="#00E800"/>
<circle cx="559.8" cy="243.54" r="0.95" fill="#FF00FF"/>
<circle cx="608.3" cy="244.8" r="0.95" fill="#FF00FF"/>
<circle cx="656.5" cy="243.28" r="0.95" fill="#FF00FF"/>
<text x="560.3" y="208.2" text-anchor="middle" class="sg" style="font-size:4.5px">****</text>
<text x="608.8" y="199.9" text-anchor="middle" class="sg" style="font-size:4.5px">****</text>
<text x="657" y="189.6" text-anchor="middle" class="sg" style="font-size:4.5px">****</text>
<line x1="16.0" y1="278.3" x2="16.0" y2="353.65000000000003" stroke="#d3d3d3" stroke-width="1.7"/>
<line x1="15.15" y1="352.8" x2="166.7" y2="352.8" stroke="#d3d3d3" stroke-width="1.7"/>
<line x1="14.6" y1="296" x2="16.0" y2="296" stroke="#333" stroke-width="0.5"/>
<text x="14.2" y="298.2" text-anchor="end">120</text>
<line x1="14.6" y1="315.7" x2="16.0" y2="315.7" stroke="#333" stroke-width="0.5"/>
<text x="14.2" y="317.9" text-anchor="end">80</text>
<line x1="14.6" y1="335.4" x2="16.0" y2="335.4" stroke="#333" stroke-width="0.5"/>
<text x="14.2" y="337.6" text-anchor="end">40</text>
<line x1="44.4" y1="352.8" x2="44.4" y2="354.2" stroke="#333" stroke-width="0.5"/>
<text x="44.4" y="359.3" text-anchor="middle">2014</text>
<line x1="91.9" y1="352.8" x2="91.9" y2="354.2" stroke="#333" stroke-width="0.5"/>
<text x="91.9" y="359.3" text-anchor="middle">2018</text>
<line x1="139.3" y1="352.8" x2="139.3" y2="354.2" stroke="#333" stroke-width="0.5"/>
<text x="139.3" y="359.3" text-anchor="middle">2022</text>
<text x="91.85" y="365.2" text-anchor="middle">Year</text>
<text transform="translate(4.1,315.6) rotate(-90)" text-anchor="middle" class="tt">Soy intake (in g/d)</text>
<path d="M44.4 342.54V336.83M41.9 342.54H46.9M41.9 336.83H46.9" stroke="#FFB733" stroke-width="0.65" fill="none"/>
<path d="M91.9 327.72V317.52M89.4 327.72H94.4M89.4 317.52H94.4" stroke="#FFB733" stroke-width="0.65" fill="none"/>
<path d="M139.3 322.5V310.58M136.8 322.5H141.8M136.8 310.58H141.8" stroke="#FFB733" stroke-width="0.65" fill="none"/>
<path d="M44.4 349.29V339.29M41.9 349.29H46.9M41.9 339.29H46.9" stroke="#5959F3" stroke-width="0.65" fill="none"/>
<path d="M91.9 345.25V330.57M89.4 345.25H94.4M89.4 330.57H94.4" stroke="#5959F3" stroke-width="0.65" fill="none"/>
<path d="M139.3 346.48V336.29M136.8 346.48H141.8M136.8 336.29H141.8" stroke="#5959F3" stroke-width="0.65" fill="none"/>
<path d="M44.4 343.58V342.59M41.9 343.58H46.9M41.9 342.59H46.9" stroke="#33ED33" stroke-width="0.65" fill="none"/>
<path d="M91.9 339.78V338.8M89.4 339.78H94.4M89.4 338.8H94.4" stroke="#33ED33" stroke-width="0.65" fill="none"/>
<path d="M139.3 341.11V340.13M136.8 341.11H141.8M136.8 340.13H141.8" stroke="#33ED33" stroke-width="0.65" fill="none"/>
<path d="M44.4 299.3V288.42M41.9 299.3H46.9M41.9 288.42H46.9" stroke="#FF33FF" stroke-width="0.65" fill="none"/>
<path d="M91.9 300.43V290.19M89.4 300.43H94.4M89.4 290.19H94.4" stroke="#FF33FF" stroke-width="0.65" fill="none"/>
<path d="M139.3 300.43V288.61M136.8 300.43H141.8M136.8 288.61H141.8" stroke="#FF33FF" stroke-width="0.65" fill="none"/>
<polyline points="44.4,339.68 91.9,322.5 139.3,316.29" fill="none" stroke="#FFC04D" stroke-width="0.5"/>
<polyline points="44.4,343.77 91.9,338.4 139.3,341.31" fill="none" stroke="#6E6EF4" stroke-width="0.5"/>
<polyline points="44.4,343.08 91.9,339.29 139.3,340.62" fill="none" stroke="#4DEF4D" stroke-width="0.5"/>
<polyline points="44.4,293.78 91.9,295.21 139.3,294.52" fill="none" stroke="#FF4DFF" stroke-width="0.5"/>
<circle cx="44.4" cy="339.68" r="0.95" fill="#FFA500"/>
<circle cx="91.9" cy="322.5" r="0.95" fill="#FFA500"/>
<circle cx="139.3" cy="316.29" r="0.95" fill="#FFA500"/>
<circle cx="44.4" cy="343.77" r="0.95" fill="#3030F0"/>
<circle cx="91.9" cy="338.4" r="0.95" fill="#3030F0"/>
<circle cx="139.3" cy="341.31" r="0.95" fill="#3030F0"/>
<circle cx="44.4" cy="343.08" r="0.95" fill="#00E800"/>
<circle cx="91.9" cy="339.29" r="0.95" fill="#00E800"/>
<circle cx="139.3" cy="340.62" r="0.95" fill="#00E800"/>
<circle cx="44.4" cy="293.78" r="0.95" fill="#FF00FF"/>
<circle cx="91.9" cy="295.21" r="0.95" fill="#FF00FF"/>
<circle cx="139.3" cy="294.52" r="0.95" fill="#FF00FF"/>
<text x="44.9" y="285" text-anchor="middle" class="sg" style="font-size:4.5px">****</text>
<text x="92.4" y="282.5" text-anchor="middle" class="sg" style="font-size:4.5px">****</text>
<text x="139.8" y="284.1" text-anchor="middle" class="sg" style="font-size:4.5px">****</text>
<line x1="188.75" y1="278.3" x2="188.75" y2="353.65000000000003" stroke="#949494" stroke-width="1.0"/>
<line x1="188.25" y1="352.8" x2="339.3" y2="352.8" stroke="#d3d3d3" stroke-width="1.7"/>
<line x1="187.35" y1="292.7" x2="188.75" y2="292.7" stroke="#333" stroke-width="0.5"/>
<text x="186.95" y="294.9" text-anchor="end">160</text>
<line x1="187.35" y1="312.57" x2="188.75" y2="312.57" stroke="#333" stroke-width="0.5"/>
<text x="186.95" y="314.77" text-anchor="end">120</text>
<line x1="187.35" y1="332.43" x2="188.75" y2="332.43" stroke="#333" stroke-width="0.5"/>
<text x="186.95" y="334.63" text-anchor="end">80</text>
<line x1="187.35" y1="352.3" x2="188.75" y2="352.3" stroke="#333" stroke-width="0.5"/>
<text x="186.95" y="354.5" text-anchor="end">40</text>
<line x1="217.3" y1="352.8" x2="217.3" y2="354.2" stroke="#333" stroke-width="0.5"/>
<text x="217.3" y="359.3" text-anchor="middle">2014</text>
<line x1="264.4" y1="352.8" x2="264.4" y2="354.2" stroke="#333" stroke-width="0.5"/>
<text x="264.4" y="359.3" text-anchor="middle">2018</text>
<line x1="311.6" y1="352.8" x2="311.6" y2="354.2" stroke="#333" stroke-width="0.5"/>
<text x="311.6" y="359.3" text-anchor="middle">2022</text>
<text x="264.45" y="365.2" text-anchor="middle">Year</text>
<text transform="translate(176.2,314.8) rotate(-90)" text-anchor="middle" class="tt">Alcohol intake (in g/d)</text>
<path d="M217.3 327.22V311.28M214.8 327.22H219.8M214.8 311.28H219.8" stroke="#FFB733" stroke-width="0.65" fill="none"/>
<path d="M264.4 330.45V315.2M261.9 330.45H266.9M261.9 315.2H266.9" stroke="#FFB733" stroke-width="0.65" fill="none"/>
<path d="M311.6 336.8V323M309.1 336.8H314.1M309.1 323H314.1" stroke="#FFB733" stroke-width="0.65" fill="none"/>
<path d="M217.3 339.68V302.19M214.8 339.68H219.8M214.8 302.19H219.8" stroke="#5959F3" stroke-width="0.65" fill="none"/>
<path d="M264.4 349.32V336.41M261.9 349.32H266.9M261.9 336.41H266.9" stroke="#5959F3" stroke-width="0.65" fill="none"/>
<path d="M311.6 349.32V339.39M309.1 349.32H314.1M309.1 339.39H314.1" stroke="#5959F3" stroke-width="0.65" fill="none"/>
<path d="M217.3 318.53V316.54M214.8 318.53H219.8M214.8 316.54H219.8" stroke="#33ED33" stroke-width="0.65" fill="none"/>
<path d="M264.4 319.57V317.58M261.9 319.57H266.9M261.9 317.58H266.9" stroke="#33ED33" stroke-width="0.65" fill="none"/>
<path d="M311.6 324.78V322.8M309.1 324.78H314.1M309.1 322.8H314.1" stroke="#33ED33" stroke-width="0.65" fill="none"/>
<path d="M217.3 339.68V333.77M214.8 339.68H219.8M214.8 333.77H219.8" stroke="#FF33FF" stroke-width="0.65" fill="none"/>
<path d="M264.4 341.37V334.02M261.9 341.37H266.9M261.9 334.02H266.9" stroke="#FF33FF" stroke-width="0.65" fill="none"/>
<path d="M311.6 345.2V336.9M309.1 345.2H314.1M309.1 336.9H314.1" stroke="#FF33FF" stroke-width="0.65" fill="none"/>
<polyline points="217.3,318.58 264.4,322.9 311.6,329.5" fill="none" stroke="#FFC04D" stroke-width="0.5"/>
<polyline points="217.3,320.22 264.4,342.91 311.6,342.52" fill="none" stroke="#6E6EF4" stroke-width="0.5"/>
<polyline points="217.3,317.53 264.4,318.58 311.6,323.79" fill="none" stroke="#4DEF4D" stroke-width="0.5"/>
<polyline points="217.3,337.2 264.4,337.9 311.6,340.58" fill="none" stroke="#FF4DFF" stroke-width="0.5"/>
<circle cx="217.3" cy="318.58" r="0.95" fill="#FFA500"/>
<circle cx="264.4" cy="322.9" r="0.95" fill="#FFA500"/>
<circle cx="311.6" cy="329.5" r="0.95" fill="#FFA500"/>
<circle cx="217.3" cy="320.22" r="0.95" fill="#3030F0"/>
<circle cx="264.4" cy="342.91" r="0.95" fill="#3030F0"/>
<circle cx="311.6" cy="342.52" r="0.95" fill="#3030F0"/>
<circle cx="217.3" cy="317.53" r="0.95" fill="#00E800"/>
<circle cx="264.4" cy="318.58" r="0.95" fill="#00E800"/>
<circle cx="311.6" cy="323.79" r="0.95" fill="#00E800"/>
<circle cx="217.3" cy="337.2" r="0.95" fill="#FF00FF"/>
<circle cx="264.4" cy="337.9" r="0.95" fill="#FF00FF"/>
<circle cx="311.6" cy="340.58" r="0.95" fill="#FF00FF"/>
<text x="217.8" y="282.5" text-anchor="middle" class="sg" style="font-size:4.5px">****</text>
<text x="264.9" y="304.5" text-anchor="middle" class="sg" style="font-size:4.5px">****</text>
<text x="312.1" y="311.2" text-anchor="middle" class="sg" style="font-size:4.5px">****</text>
<line x1="358.75" y1="278.3" x2="358.75" y2="353.65000000000003" stroke="#ababab" stroke-width="1.2"/>
<line x1="358.15" y1="352.8" x2="513" y2="352.8" stroke="#d3d3d3" stroke-width="1.7"/>
<line x1="357.35" y1="302.6" x2="358.75" y2="302.6" stroke="#333" stroke-width="0.5"/>
<text x="356.95" y="304.8" text-anchor="end">30</text>
<line x1="357.35" y1="328.6" x2="358.75" y2="328.6" stroke="#333" stroke-width="0.5"/>
<text x="356.95" y="330.8" text-anchor="end">20</text>
<line x1="387.3" y1="352.8" x2="387.3" y2="354.2" stroke="#333" stroke-width="0.5"/>
<text x="387.3" y="359.3" text-anchor="middle">2014</text>
<line x1="435.3" y1="352.8" x2="435.3" y2="354.2" stroke="#333" stroke-width="0.5"/>
<text x="435.3" y="359.3" text-anchor="middle">2018</text>
<line x1="483.6" y1="352.8" x2="483.6" y2="354.2" stroke="#333" stroke-width="0.5"/>
<text x="483.6" y="359.3" text-anchor="middle">2022</text>
<text x="435.45" y="365.2" text-anchor="middle">Year</text>
<text transform="translate(349.5,314.8) rotate(-90)" text-anchor="middle" class="tt">Snacks intake (in g/d)</text>
<path d="M387.3 342.9V338.74M384.8 342.9H389.8M384.8 338.74H389.8" stroke="#FFB733" stroke-width="0.65" fill="none"/>
<path d="M435.3 327.3V317.42M432.8 327.3H437.8M432.8 317.42H437.8" stroke="#FFB733" stroke-width="0.65" fill="none"/>
<path d="M483.6 303.9V288.56M481.1 303.9H486.1M481.1 288.56H486.1" stroke="#FFB733" stroke-width="0.65" fill="none"/>
<path d="M387.3 349.4V337.96M384.8 349.4H389.8M384.8 337.96H389.8" stroke="#5959F3" stroke-width="0.65" fill="none"/>
<path d="M435.3 344.2V332.5M432.8 344.2H437.8M432.8 332.5H437.8" stroke="#5959F3" stroke-width="0.65" fill="none"/>
<path d="M483.6 338.48V323.92M481.1 338.48H486.1M481.1 323.92H486.1" stroke="#5959F3" stroke-width="0.65" fill="none"/>
<path d="M387.3 340.3V337.7M384.8 340.3H389.8M384.8 337.7H389.8" stroke="#33ED33" stroke-width="0.65" fill="none"/>
<path d="M435.3 327.3V325.74M432.8 327.3H437.8M432.8 325.74H437.8" stroke="#33ED33" stroke-width="0.65" fill="none"/>
<path d="M483.6 322.88V321.32M481.1 322.88H486.1M481.1 321.32H486.1" stroke="#33ED33" stroke-width="0.65" fill="none"/>
<path d="M387.3 326.52V319.76M384.8 326.52H389.8M384.8 319.76H389.8" stroke="#FF33FF" stroke-width="0.65" fill="none"/>
<path d="M435.3 306.5V296.36M432.8 306.5H437.8M432.8 296.36H437.8" stroke="#FF33FF" stroke-width="0.65" fill="none"/>
<path d="M483.6 305.98V298.7M481.1 305.98H486.1M481.1 298.7H486.1" stroke="#FF33FF" stroke-width="0.65" fill="none"/>
<polyline points="387.3,340.82 435.3,322.62 483.6,296.36" fill="none" stroke="#FFC04D" stroke-width="0.5"/>
<polyline points="387.3,343.68 435.3,337.96 483.6,331.2" fill="none" stroke="#6E6EF4" stroke-width="0.5"/>
<polyline points="387.3,339 435.3,326.52 483.6,322.1" fill="none" stroke="#4DEF4D" stroke-width="0.5"/>
<polyline points="387.3,323.14 435.3,301.56 483.6,302.08" fill="none" stroke="#FF4DFF" stroke-width="0.5"/>
<circle cx="387.3" cy="340.82" r="0.95" fill="#FFA500"/>
<circle cx="435.3" cy="322.62" r="0.95" fill="#FFA500"/>
<circle cx="483.6" cy="296.36" r="0.95" fill="#FFA500"/>
<circle cx="387.3" cy="343.68" r="0.95" fill="#3030F0"/>
<circle cx="435.3" cy="337.96" r="0.95" fill="#3030F0"/>
<circle cx="483.6" cy="331.2" r="0.95" fill="#3030F0"/>
<circle cx="387.3" cy="339" r="0.95" fill="#00E800"/>
<circle cx="435.3" cy="326.52" r="0.95" fill="#00E800"/>
<circle cx="483.6" cy="322.1" r="0.95" fill="#00E800"/>
<circle cx="387.3" cy="323.14" r="0.95" fill="#FF00FF"/>
<circle cx="435.3" cy="301.56" r="0.95" fill="#FF00FF"/>
<circle cx="483.6" cy="302.08" r="0.95" fill="#FF00FF"/>
<text x="387.8" y="312.5" text-anchor="middle" class="sg" style="font-size:4.5px">*</text>
<text x="435.8" y="291" text-anchor="middle" class="sg" style="font-size:4.5px">****</text>
<text x="484.1" y="282.3" text-anchor="middle" class="sg" style="font-size:4.5px">**</text>
<line x1="528.75" y1="278.3" x2="528.75" y2="353.65000000000003" stroke="#949494" stroke-width="1.0"/>
<line x1="528.25" y1="352.8" x2="686" y2="352.8" stroke="#d3d3d3" stroke-width="1.7"/>
<line x1="527.35" y1="285.6" x2="528.75" y2="285.6" stroke="#333" stroke-width="0.5"/>
<text x="526.95" y="287.8" text-anchor="end">6</text>
<line x1="527.35" y1="301.5" x2="528.75" y2="301.5" stroke="#333" stroke-width="0.5"/>
<text x="526.95" y="303.7" text-anchor="end">5</text>
<line x1="527.35" y1="317.4" x2="528.75" y2="317.4" stroke="#333" stroke-width="0.5"/>
<text x="526.95" y="319.6" text-anchor="end">4</text>
<line x1="527.35" y1="333.3" x2="528.75" y2="333.3" stroke="#333" stroke-width="0.5"/>
<text x="526.95" y="335.5" text-anchor="end">3</text>
<line x1="527.35" y1="349.2" x2="528.75" y2="349.2" stroke="#333" stroke-width="0.5"/>
<text x="526.95" y="351.4" text-anchor="end">2</text>
<line x1="557.8" y1="352.8" x2="557.8" y2="354.2" stroke="#333" stroke-width="0.5"/>
<text x="557.8" y="359.3" text-anchor="middle">2014</text>
<line x1="606.9" y1="352.8" x2="606.9" y2="354.2" stroke="#333" stroke-width="0.5"/>
<text x="606.9" y="359.3" text-anchor="middle">2018</text>
<line x1="656.1" y1="352.8" x2="656.1" y2="354.2" stroke="#333" stroke-width="0.5"/>
<text x="656.1" y="359.3" text-anchor="middle">2022</text>
<text x="606.95" y="365.2" text-anchor="middle">Year</text>
<text transform="translate(522.4,314.3) rotate(-90)" text-anchor="middle" class="tt">Other fat intake (in g/d)</text>
<path d="M557.8 332.82V324.24M555.3 332.82H560.3M555.3 324.24H560.3" stroke="#FFB733" stroke-width="0.65" fill="none"/>
<path d="M606.9 331.55V321.85M604.4 331.55H609.4M604.4 321.85H609.4" stroke="#FFB733" stroke-width="0.65" fill="none"/>
<path d="M656.1 337.43V327.74M653.6 337.43H658.6M653.6 327.74H658.6" stroke="#FFB733" stroke-width="0.65" fill="none"/>
<path d="M557.8 344.27V326.94M555.3 344.27H560.3M555.3 326.94H560.3" stroke="#5959F3" stroke-width="0.65" fill="none"/>
<path d="M606.9 344.75V308.97M604.4 344.75H609.4M604.4 308.97H609.4" stroke="#5959F3" stroke-width="0.65" fill="none"/>
<path d="M656.1 349.36V339.5M653.6 349.36H658.6M653.6 339.5H658.6" stroke="#5959F3" stroke-width="0.65" fill="none"/>
<path d="M557.8 330.28V328.69M555.3 330.28H560.3M555.3 328.69H560.3" stroke="#33ED33" stroke-width="0.65" fill="none"/>
<path d="M606.9 328.05V326.46M604.4 328.05H609.4M604.4 326.46H609.4" stroke="#33ED33" stroke-width="0.65" fill="none"/>
<path d="M656.1 326.94V325.35M653.6 326.94H658.6M653.6 325.35H658.6" stroke="#33ED33" stroke-width="0.65" fill="none"/>
<path d="M557.8 324.24V314.22M555.3 324.24H560.3M555.3 314.22H560.3" stroke="#FF33FF" stroke-width="0.65" fill="none"/>
<path d="M606.9 321.38V310.25M604.4 321.38H609.4M604.4 310.25H609.4" stroke="#FF33FF" stroke-width="0.65" fill="none"/>
<path d="M656.1 322.01V310.25M653.6 322.01H658.6M653.6 310.25H658.6" stroke="#FF33FF" stroke-width="0.65" fill="none"/>
<polyline points="557.8,328.37 606.9,326.94 656.1,331.87" fill="none" stroke="#FFC04D" stroke-width="0.5"/>
<polyline points="557.8,336.16 606.9,326.46 656.1,344.27" fill="none" stroke="#6E6EF4" stroke-width="0.5"/>
<polyline points="557.8,329.48 606.9,327.26 656.1,326.14" fill="none" stroke="#4DEF4D" stroke-width="0.5"/>
<polyline points="557.8,318.99 606.9,316.29 656.1,316.29" fill="none" stroke="#FF4DFF" stroke-width="0.5"/>
<circle cx="557.8" cy="328.37" r="0.95" fill="#FFA500"/>
<circle cx="606.9" cy="326.94" r="0.95" fill="#FFA500"/>
<circle cx="656.1" cy="331.87" r="0.95" fill="#FFA500"/>
<circle cx="557.8" cy="336.16" r="0.95" fill="#3030F0"/>
<circle cx="606.9" cy="326.46" r="0.95" fill="#3030F0"/>
<circle cx="656.1" cy="344.27" r="0.95" fill="#3030F0"/>
<circle cx="557.8" cy="329.48" r="0.95" fill="#00E800"/>
<circle cx="606.9" cy="327.26" r="0.95" fill="#00E800"/>
<circle cx="656.1" cy="326.14" r="0.95" fill="#00E800"/>
<circle cx="557.8" cy="318.99" r="0.95" fill="#FF00FF"/>
<circle cx="606.9" cy="316.29" r="0.95" fill="#FF00FF"/>
<circle cx="656.1" cy="316.29" r="0.95" fill="#FF00FF"/>
<text x="558.3" y="303" text-anchor="middle" class="sg">ns</text>
<text x="607.4" y="281.9" text-anchor="middle" class="sg">ns</text>
<text x="656.6" y="305.7" text-anchor="middle" class="sg" style="font-size:4.5px">*</text>
<text x="46.1" y="7.9" class="tt" style="font-size:4.72px">Trajectory patterns</text>
<line x1="89.0" y1="5.8" x2="94.6" y2="5.8" stroke="#FFA500" stroke-width="0.6" opacity="0.8"/>
<circle cx="91.8" cy="5.8" r="0.9" fill="#FFA500"/>
<text x="98.6" y="7.8" text-anchor="middle" style="fill:#666;stroke:none;font-size:4.6px">1</text>
<line x1="102.9" y1="5.8" x2="108.5" y2="5.8" stroke="#3030F0" stroke-width="0.6" opacity="0.8"/>
<circle cx="105.7" cy="5.8" r="0.9" fill="#3030F0"/>
<text x="112.3" y="7.8" text-anchor="middle" style="fill:#666;stroke:none;font-size:4.6px">2</text>
<line x1="116.5" y1="5.8" x2="122.1" y2="5.8" stroke="#00E800" stroke-width="0.6" opacity="0.8"/>
<circle cx="119.3" cy="5.8" r="0.9" fill="#00E800"/>
<text x="126" y="7.8" text-anchor="middle" style="fill:#666;stroke:none;font-size:4.6px">3</text>
<line x1="130.0" y1="5.8" x2="135.60000000000002" y2="5.8" stroke="#FF00FF" stroke-width="0.6" opacity="0.8"/>
<circle cx="132.8" cy="5.8" r="0.9" fill="#FF00FF"/>
<text x="139.5" y="7.8" text-anchor="middle" style="fill:#666;stroke:none;font-size:4.6px">4</text>
</svg>
</body></html>
